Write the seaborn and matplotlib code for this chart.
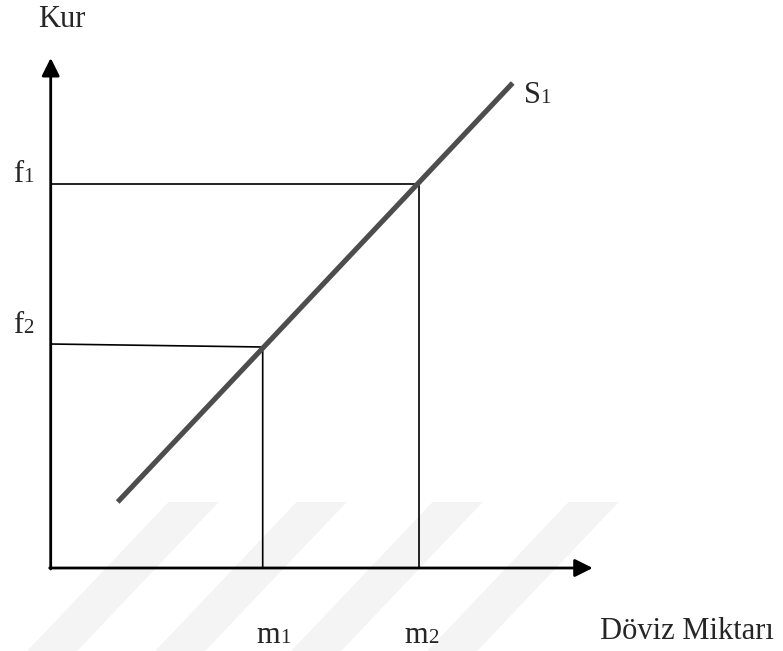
import numpy as np
import pandas as pd
import matplotlib.pyplot as plt
import seaborn as sns

# values (origin at the axis corner, y upwards)
axis_len_x = 542
axis_len_y = 510

m_vals = [212, 368]          # m1, m2 on the quantity axis
f_vals = [224, 384]          # f2, f1 on the rate axis
f2_end = 221                 # the f2 guide drops slightly to the curve
supply_x = [67, 462]
supply_y = [66, 485]

m_labels = ['m', 'm']
m_subs = ['1', '2']
f_labels = ['f', 'f']
f_subs = ['2', '1']

# faint diagonal watermark stripes at the bottom
stripe_x = [118, 246, 382, 518]
stripe_w = 50
stripe_top = 66

sns.set_theme(style='white')
plt.rcParams['font.family'] = ['Liberation Serif', 'DejaVu Serif']

fig = plt.figure(figsize=(7.83, 6.51), dpi=100)
ax = fig.add_axes([0, 0, 1, 1])

# watermark
bot = -83
shift = -0.95 * (stripe_top - bot)
for sx in stripe_x:
    ax.fill([sx, sx + stripe_w, sx + stripe_w + shift, sx + shift],
            [stripe_top, stripe_top, bot, bot],
            color='#f4f4f4', lw=0, zorder=0)

# axes with arrow heads
arrow = dict(arrowstyle='-|>,head_length=0.4,head_width=0.2', lw=2,
             color='black', mutation_scale=27, shrinkA=0, shrinkB=0)
ax.annotate('', xy=(axis_len_x, 0), xytext=(-1, 0), arrowprops=arrow, zorder=3)
ax.annotate('', xy=(0, axis_len_y), xytext=(0, -1), arrowprops=arrow, zorder=3)

# guide lines
ax.plot([0, m_vals[1], m_vals[1]], [f_vals[1], f_vals[1], 0], color='black', lw=1.2, zorder=2)
ax.plot([0, m_vals[0], m_vals[0]], [f_vals[0], f2_end, 0], color='black', lw=1.2, zorder=2)

# supply curve
supply = pd.DataFrame({'q': supply_x, 'p': supply_y})
sns.lineplot(data=supply, x='q', y='p', ax=ax, color='#4d4d4d', lw=3.7,
             solid_capstyle='butt', zorder=4)
ax.set_xlim(-50.7, 732.3)
ax.set_ylim(-83, 568)
ax.axis('off')

FS = 22
SUB = 15


def label(x, y, main, sub=None, ha='left'):
    t = ax.text(x, y, main, fontsize=FS, ha=ha, va='baseline')
    if sub:
        ax.annotate(sub, xy=(1, y), xycoords=(t, 'data'), fontsize=SUB,
                    ha='left', va='baseline')
    return t


label(-12.7, 541, 'Kur')
for fv, lab, sub in zip(f_vals, f_labels, f_subs):
    label(-37.5, fv + 2 if sub == '1' else fv + 11, lab, sub)
label(473, 465, 'S', '1')
for mv, lab, sub in zip(m_vals, m_labels, m_subs):
    label(mv - 6 if sub == '1' else mv - 14, -75, lab, sub)
label(723, -71, 'Döviz Miktarı', ha='right')

fig.savefig('out.png', dpi=100)
